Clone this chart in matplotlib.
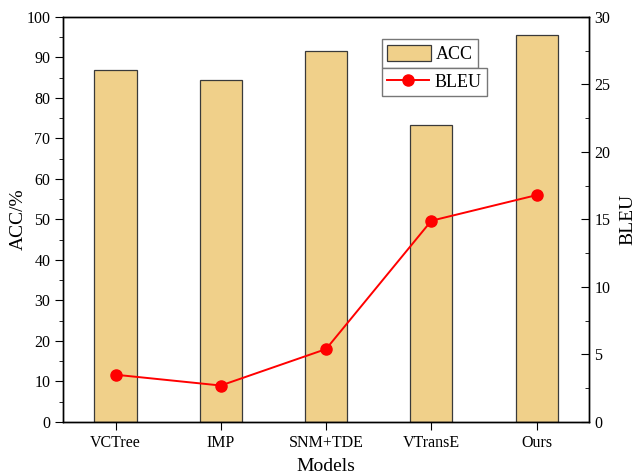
import numpy as np
import matplotlib.pyplot as plt
from matplotlib.ticker import MultipleLocator

plt.rcParams['font.family'] = ['Liberation Serif', 'DejaVu Serif']

models = ['VCTree', 'IMP', 'SNM+TDE', 'VTransE', 'Ours']
acc = [86.8, 84.4, 91.5, 73.4, 95.5]
bleu = [3.5, 2.7, 5.4, 14.9, 16.8]

fig = plt.figure(figsize=(6.35, 4.75), dpi=100)
ax = fig.add_axes([0.099, 0.1116, 0.829, 0.853])
x = np.arange(len(models))

bars = ax.bar(x, acc, width=0.4, color='#F0D08A', edgecolor='#3a3a3a',
              linewidth=0.9, label='ACC', zorder=2)
ax.set_xlim(-0.5, 4.5)
ax.set_ylim(0, 100)
ax.set_xticks(x)
ax.set_xticklabels(models, fontsize=11.5)
ax.yaxis.set_major_locator(MultipleLocator(10))
ax.yaxis.set_minor_locator(MultipleLocator(5))
ax.tick_params(axis='y', which='major', direction='out', length=6, pad=3,
               labelsize=11.5)
ax.tick_params(axis='y', which='minor', direction='out', length=3)
ax.tick_params(axis='x', direction='out', length=6)
ax.set_ylabel('ACC/%', fontsize=14, labelpad=0)
ax.set_xlabel('Models', fontsize=14, labelpad=5)

ax2 = ax.twinx()
line, = ax2.plot(x, bleu, color='#FF0000', marker='o', markersize=8,
                 linewidth=1.4, label='BLEU', zorder=3)
ax2.set_ylim(0, 30)
ax2.yaxis.set_major_locator(MultipleLocator(5))
ax2.yaxis.set_minor_locator(MultipleLocator(2.5))
ax2.tick_params(axis='y', which='major', direction='in', length=6, labelsize=11.5)
ax2.tick_params(axis='y', which='minor', direction='in', length=3)
ax2.set_ylabel('BLEU', fontsize=14, labelpad=6.5)

for a in (ax, ax2):
    for s in a.spines.values():
        s.set_linewidth(1.0)

leg1 = ax2.legend(handles=[bars], loc='upper left', bbox_to_anchor=(0.606, 0.945),
                  fontsize=13, fancybox=False, edgecolor='#777777', framealpha=1,
                  handlelength=2.4, handleheight=1.0, borderpad=0.3,
                  handletextpad=0.3, borderaxespad=0)
ax2.add_artist(leg1)
ax2.legend(handles=[line], loc='upper left', bbox_to_anchor=(0.606, 0.873),
           fontsize=13, fancybox=False, edgecolor='#777777', framealpha=1,
           handlelength=2.3, borderpad=0.3, handletextpad=0.3, borderaxespad=0)

plt.savefig('out.png', dpi=100)
